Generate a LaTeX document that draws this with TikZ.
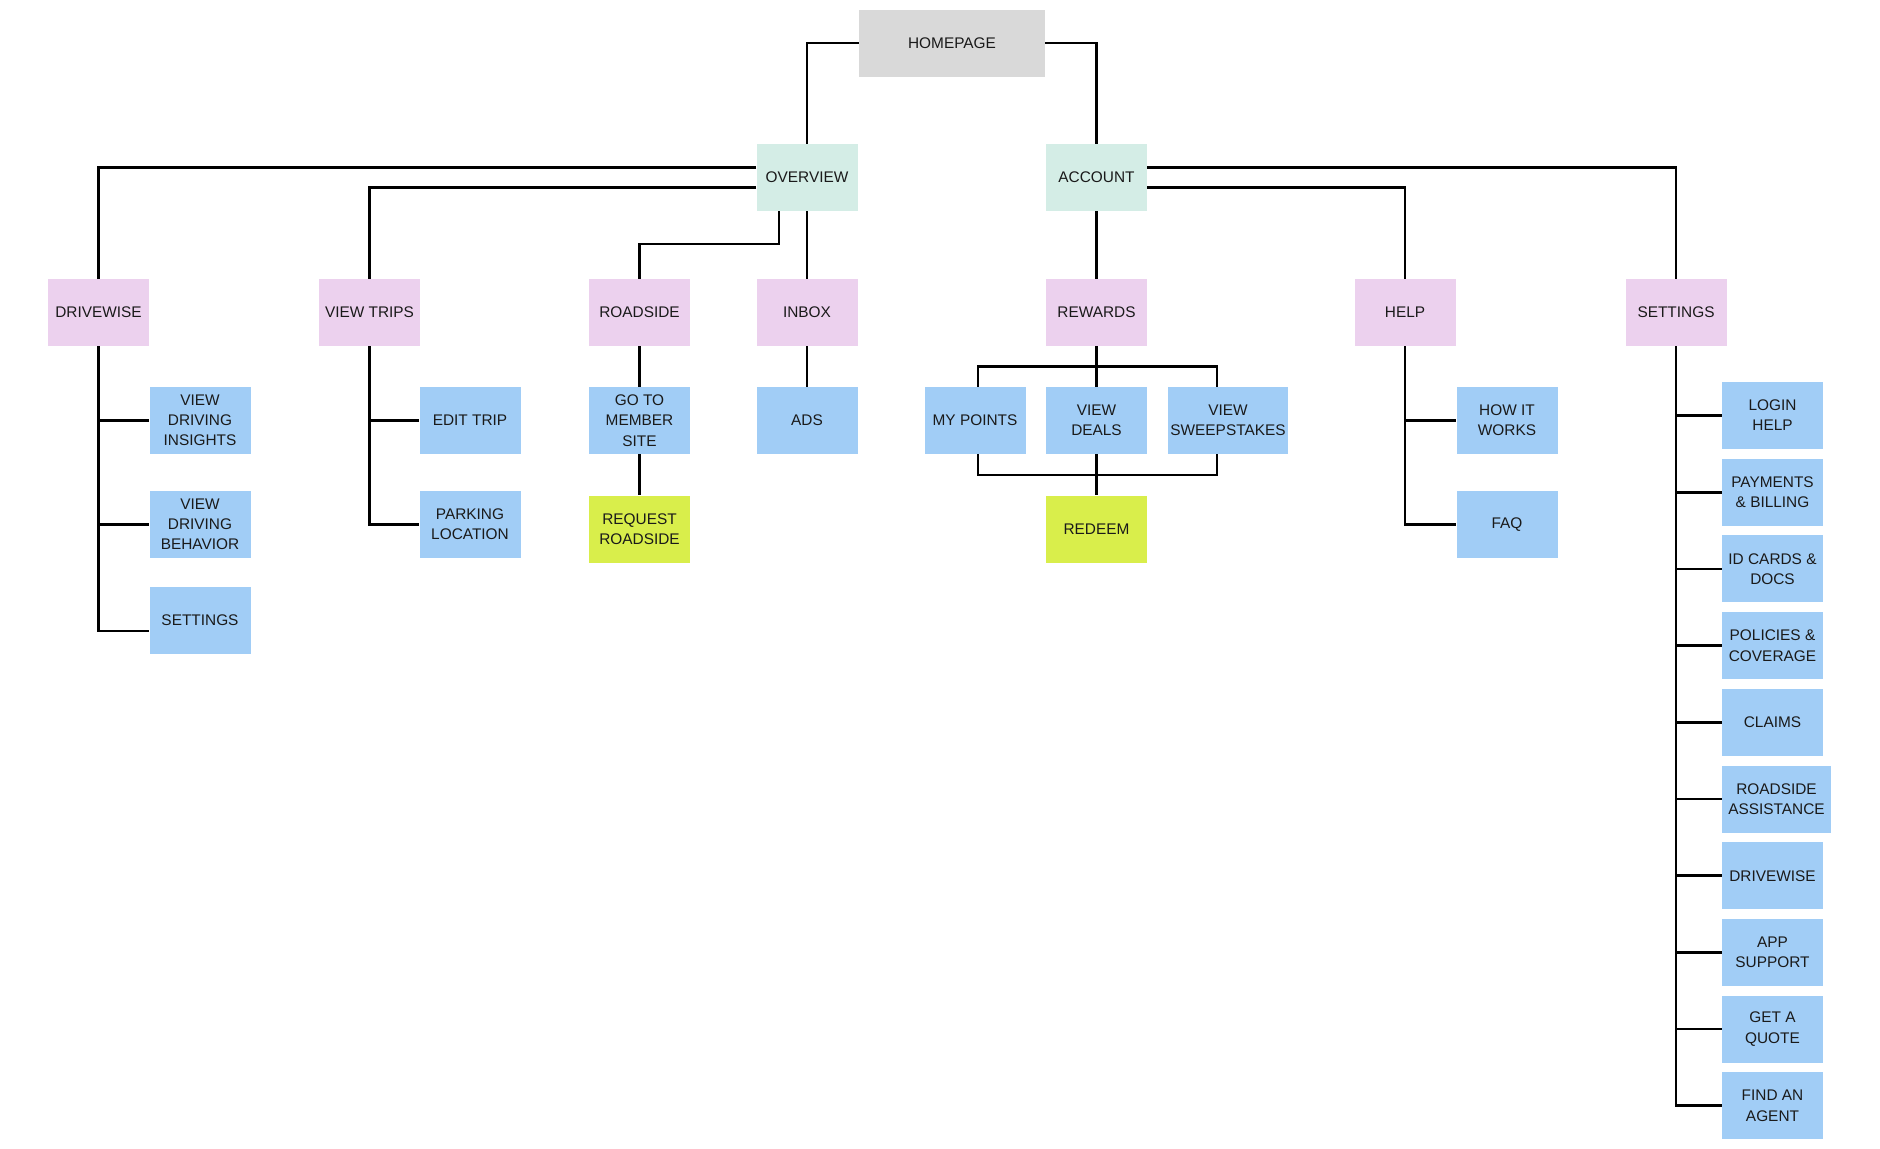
\documentclass[tikz,border=0pt]{standalone}
\usepackage{fontspec}
\setmainfont{Liberation Sans}
\usetikzlibrary{calc}
\definecolor{MapGray}{HTML}{D9D9D9}
\definecolor{MapMint}{HTML}{D4EDE6}
\definecolor{MapPink}{HTML}{ECD1EE}
\definecolor{MapBlue}{HTML}{A1CDF6}
\definecolor{MapLime}{HTML}{D9EE4B}
\definecolor{MapInk}{HTML}{1A1A1A}

\begin{document}
\begin{tikzpicture}[
    x=0.5pt, y=-0.5pt,
    page/.style={minimum width=50.5pt, minimum height=33.5pt, inner sep=0pt, align=center, font=\fontsize{7.7}{10.1}\selectfont, text=MapInk},
    link/.style={draw=black, line width=1.35pt}
]
\useasboundingbox (0,0) rectangle (1880,1148);

\node[page, fill=MapGray, minimum width=93pt] (home) at (952, 43) {HOMEPAGE};
\node[page, fill=MapMint] (overview) at (807, 177.5) {OVERVIEW};
\node[page, fill=MapMint] (account) at (1096.5, 177.5) {ACCOUNT};

\node[page, fill=MapPink] (drivewise) at (98.5, 312.5) {DRIVEWISE};
\node[page, fill=MapPink] (trips) at (369.5, 312.5) {VIEW TRIPS};
\node[page, fill=MapPink] (roadside) at (639.5, 312.5) {ROADSIDE};
\node[page, fill=MapPink] (inbox) at (807, 312.5) {INBOX};
\node[page, fill=MapPink] (rewards) at (1096.5, 312.5) {REWARDS};
\node[page, fill=MapPink] (help) at (1405, 312.5) {HELP};
\node[page, fill=MapPink] (settings) at (1676, 312.5) {SETTINGS};

\node[page, fill=MapBlue] (insights) at (200, 420.5) {VIEW\\DRIVING\\INSIGHTS};
\node[page, fill=MapBlue] (behavior) at (200, 524.5) {VIEW\\DRIVING\\BEHAVIOR};
\node[page, fill=MapBlue] (dwsettings) at (200, 620.5) {SETTINGS};
\node[page, fill=MapBlue] (edittrip) at (470, 420.5) {EDIT TRIP};
\node[page, fill=MapBlue] (parking) at (470, 524.5) {PARKING\\LOCATION};
\node[page, fill=MapBlue] (member) at (639.5, 420.5) {GO TO\\MEMBER\\SITE};
\node[page, fill=MapLime] (request) at (639.5, 529) {REQUEST\\ROADSIDE};
\node[page, fill=MapBlue] (ads) at (807, 420.5) {ADS};
\node[page, fill=MapBlue] (points) at (975, 420.5) {MY POINTS};
\node[page, fill=MapBlue] (deals) at (1096.5, 420.5) {VIEW\\DEALS};
\node[page, fill=MapBlue, minimum width=60pt] (sweeps) at (1228, 420.5) {VIEW\\SWEEPSTAKES};
\node[page, fill=MapLime] (redeem) at (1096.5, 529) {REDEEM};
\node[page, fill=MapBlue] (howto) at (1507, 420.5) {HOW IT\\WORKS};
\node[page, fill=MapBlue] (faq) at (1507, 524.5) {FAQ};

\node[page, fill=MapBlue] (login) at (1772.5, 415.5) {LOGIN\\HELP};
\node[page, fill=MapBlue] (payments) at (1772.5, 492.2) {PAYMENTS\\\& BILLING};
\node[page, fill=MapBlue] (idcards) at (1772.5, 568.9) {ID CARDS \&\\DOCS};
\node[page, fill=MapBlue] (policies) at (1772.5, 645.6) {POLICIES \&\\COVERAGE};
\node[page, fill=MapBlue] (claims) at (1772.5, 722.3) {CLAIMS};
\node[page, fill=MapBlue, minimum width=54.5pt] (assist) at (1776.5, 799) {ROADSIDE\\ASSISTANCE};
\node[page, fill=MapBlue] (stdrivewise) at (1772.5, 875.7) {DRIVEWISE};
\node[page, fill=MapBlue] (appsupport) at (1772.5, 952.4) {APP\\SUPPORT};
\node[page, fill=MapBlue] (quote) at (1772.5, 1029.1) {GET A\\QUOTE};
\node[page, fill=MapBlue] (agent) at (1772.5, 1105.8) {FIND AN\\AGENT};

\coordinate (roadbend) at (700, 244);
\coordinate (rwtop) at (1096.5, 366.6);
\coordinate (rwbottom) at (1096.5, 475);

\draw[link] (home.west) -| (overview.north);
\draw[link] (home.east) -| (account.north);
\draw[link] ([yshift=5pt]overview.west) -| (drivewise.north);
\draw[link] ([yshift=-5pt]overview.west) -| (trips.north);
\draw[link] ([xshift=-14pt]overview.south) |- (roadbend) -| (roadside.north);
\draw[link] (overview.south) -- (inbox.north);
\draw[link] ([yshift=5pt]account.east) -| (settings.north);
\draw[link] ([yshift=-5pt]account.east) -| (help.north);
\draw[link] (account.south) -- (rewards.north);

\draw[link] (drivewise.south) |- (insights.west);
\draw[link] (drivewise.south) |- (behavior.west);
\draw[link] (drivewise.south) |- ([yshift=-5.25pt]dwsettings.west);
\draw[link] (trips.south) |- (edittrip.west);
\draw[link] (trips.south) |- (parking.west);
\draw[link] (roadside.south) -- (member.north);
\draw[link] (member.south) -- (request.north);
\draw[link] (inbox.south) -- (ads.north);

\draw[link] (rewards.south) -- (deals.north);
\draw[link] ([xshift=1.5pt]points.north) |- (rwtop) -| ([xshift=-5.5pt]sweeps.north);
\draw[link] ([xshift=1.5pt]points.south) |- (rwbottom) -| ([xshift=-5.5pt]sweeps.south);
\draw[link] (deals.south) -- (redeem.north);

\draw[link] (help.south) |- (howto.west);
\draw[link] (help.south) |- (faq.west);

\draw[link] (settings.south) |- (login.west);
\draw[link] (settings.south) |- (payments.west);
\draw[link] (settings.south) |- (idcards.west);
\draw[link] (settings.south) |- (policies.west);
\draw[link] (settings.south) |- (claims.west);
\draw[link] (settings.south) |- (assist.west);
\draw[link] (settings.south) |- (stdrivewise.west);
\draw[link] (settings.south) |- (appsupport.west);
\draw[link] (settings.south) |- (quote.west);
\draw[link] (settings.south) |- (agent.west);
\end{tikzpicture}
\end{document}
